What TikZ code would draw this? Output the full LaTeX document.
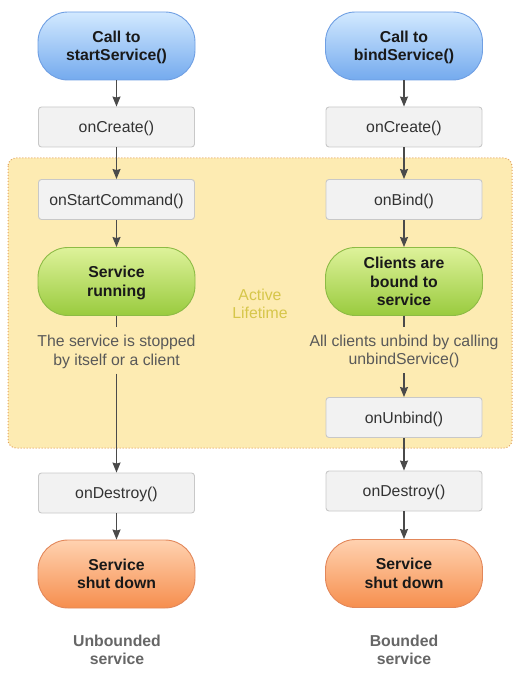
\documentclass[tikz,border=0pt]{standalone}
\usepackage{fontspec}
\setmainfont{Liberation Sans}
\usetikzlibrary{arrows.meta}

\definecolor{flowline}{HTML}{4A4A4A}
\definecolor{boxfill}{HTML}{F2F2F2}
\definecolor{boxline}{HTML}{C8C8C8}
\definecolor{lifefill}{HTML}{FDEBB2}
\definecolor{lifeline}{HTML}{E3A25E}
\definecolor{lifetext}{HTML}{D6C64A}
\definecolor{calltop}{HTML}{D2E9FF}
\definecolor{callbot}{HTML}{74AAEE}
\definecolor{callline}{HTML}{6F9FE3}
\definecolor{runtop}{HTML}{DDF29A}
\definecolor{runbot}{HTML}{9ACB3E}
\definecolor{runline}{HTML}{8DBB45}
\definecolor{endtop}{HTML}{FFD2B0}
\definecolor{endbot}{HTML}{F68E4E}
\definecolor{endline}{HTML}{E2875A}

\tikzset{
  every node/.style={font=\fontsize{15.8}{18.5}\selectfont, align=center},
  pill/.style={draw, rounded corners=30pt, minimum width=157pt, minimum height=68pt,
    inner sep=0pt, line width=0.9pt, text depth=0pt,
    font=\fontsize{15.8}{18.5}\selectfont\bfseries, text=black!90},
  callbox/.style={pill, draw=callline, top color=calltop, bottom color=callbot},
  runbox/.style={pill, draw=runline, top color=runtop, bottom color=runbot},
  endbox/.style={pill, draw=endline, top color=endtop, bottom color=endbot},
  stepbox/.style={draw=boxline, fill=boxfill, rounded corners=3pt, minimum width=156pt,
    minimum height=40pt, inner sep=0pt, line width=0.9pt, text depth=0pt, text=black!80},
  note/.style={inner xsep=2pt, inner ysep=8pt, text depth=0pt, text=black!65},
  kind/.style={font=\fontsize{15.8}{18.5}\selectfont\bfseries, text=black!60},
  flow/.style={draw=flowline, line width=1.2pt, -{Stealth[length=10pt,width=8pt,inset=1pt]}},
  plain/.style={draw=flowline, line width=1.2pt}
}

\begin{document}
\begin{tikzpicture}[x=1pt, y=-1pt]
  \useasboundingbox (0,0) rectangle (519,676);

  % active lifetime area
  \draw[lifeline, fill=lifefill, dotted, line width=1pt, rounded corners=8pt] (8,158) rectangle (512,448);
  \node[text=lifetext] (active) at (260,304) {Active\\Lifetime};

  % unbounded service
  \node[callbox] (callL) at (116.5,46) {Call to\\startService()};
  \node[stepbox] (createL) at (116.5,127) {onCreate()};
  \node[stepbox] (startcmd) at (116.5,199.5) {onStartCommand()};
  \node[runbox] (running) at (116.5,281.5) {Service\\running};
  \node[note] (stopped) at (116.5,350.5) {The service is stopped\\by itself or a client};
  \node[stepbox] (destroyL) at (116.5,493) {onDestroy()};
  \node[endbox] (shutL) at (116.5,574) {Service\\shut down};
  \node[kind] (unbounded) at (117,650) {Unbounded\\service};

  % bounded service
  \node[callbox] (callR) at (404,46) {Call to\\bindService()};
  \node[stepbox] (createR) at (404,127) {onCreate()};
  \node[stepbox] (bind) at (404,199.5) {onBind()};
  \node[runbox] (bound) at (404,281.5) {Clients are\\bound to\\service};
  \node[note] (unbindall) at (404,350) {All clients unbind by calling\\unbindService()};
  \node[stepbox] (unbind) at (404,417.5) {onUnbind()};
  \node[stepbox] (destroyR) at (404,491) {onDestroy()};
  \node[endbox] (shutR) at (404,573.5) {Service\\shut down};
  \node[kind] (bounded) at (404,650) {Bounded\\service};

  \draw[flow] (callL) -- (createL);
  \draw[flow] (createL) -- (startcmd);
  \draw[flow] (startcmd) -- (running);
  \draw[plain] (running) -- (stopped);
  \draw[flow] (stopped) -- (destroyL);
  \draw[flow] (destroyL) -- (shutL);

  \draw[flow] (callR) -- (createR);
  \draw[flow] (createR) -- (bind);
  \draw[flow] (bind) -- (bound);
  \draw[plain] (bound) -- (unbindall);
  \draw[flow] (unbindall) -- (unbind);
  \draw[flow] (unbind) -- (destroyR);
  \draw[flow] (destroyR) -- (shutR);

\end{tikzpicture}
\end{document}
